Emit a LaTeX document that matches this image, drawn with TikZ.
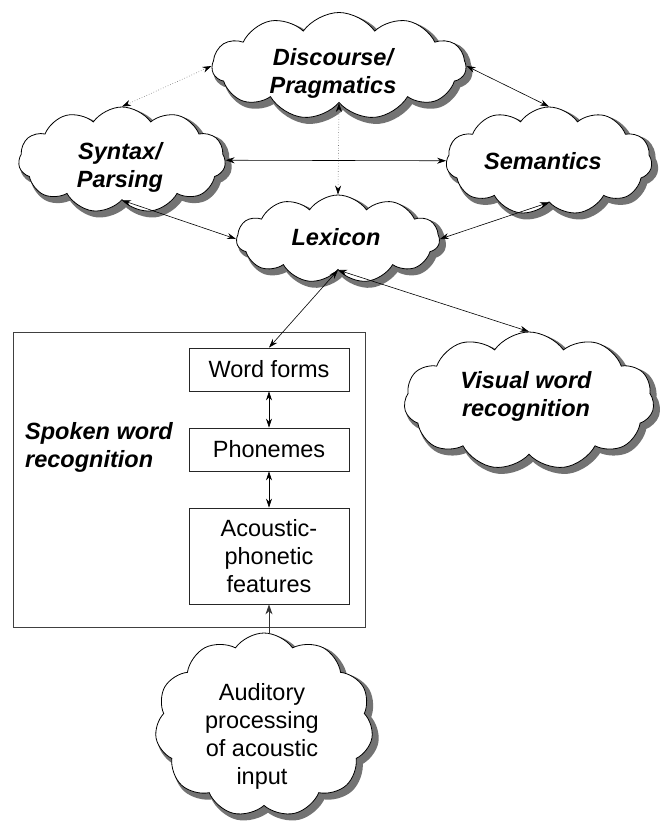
\documentclass[tikz,border=0pt]{standalone}
\usepackage{fontspec}
\setmainfont{Liberation Sans}
\usetikzlibrary{shapes.symbols,arrows.meta}
\begin{document}
\begin{tikzpicture}[x=1pt,y=1pt,
  lbl/.style={font=\fontsize{23.5}{28}\selectfont\bfseries\itshape, align=center, inner sep=0pt},
  txt/.style={font=\fontsize{23.5}{28}\selectfont, align=center},
  cloudbase/.style={cloud, cloud puffs=11, cloud puff arc=110, cloud ignores aspect, inner sep=0pt},
  cloudnode/.style={cloudbase, draw=black, line width=0.8pt, fill=white},
  cloudshadow/.style={cloudbase, draw=black!55, fill=black!55, line width=5pt},
  boxnode/.style={draw=black!85, line width=0.8pt, fill=white, minimum width=160pt, inner sep=0pt},
  tipk/.tip={Stealth[length=9pt,width=6pt,color=black]},
  link/.style={tipk-tipk, line width=0.6pt},
  dotlink/.style={link, draw=black!55, dotted},
]
\fill[white] (0,0) rectangle (659,-825);
\useasboundingbox (0,0) rectangle (659,-825);

% outer box
\node[draw=black!75, line width=0.8pt, minimum width=352pt, minimum height=295pt, inner sep=0pt] (outer) at (189,-479.5) {};

% cloud shadows
\node[cloudshadow, minimum width=254pt, minimum height=107pt] (discsh) at (343,-70) {};
\node[cloudshadow, minimum width=207pt, minimum height=106pt] (synsh) at (126,-164) {};
\node[cloudshadow, minimum width=206pt, minimum height=108pt] (semsh) at (553,-165) {};
\node[cloudshadow, minimum width=203pt, minimum height=88pt] (lexsh) at (342,-243) {};
\node[cloudshadow, minimum width=250pt, minimum height=138pt] (vissh) at (533,-405) {};
\node[cloudshadow, minimum width=218pt, minimum height=184pt] (audsh) at (268,-729) {};

% clouds
\node[cloudnode, minimum width=254pt, minimum height=107pt] (disc) at (339,-66) {};
\node[cloudnode, minimum width=207pt, minimum height=106pt] (syn) at (122,-160) {};
\node[cloudnode, minimum width=206pt, minimum height=108pt] (sem) at (549,-161) {};
\node[cloudnode, minimum width=203pt, minimum height=88pt] (lex) at (338,-239) {};
\node[cloudnode, minimum width=250pt, minimum height=138pt] (vis) at (529,-401) {};
\node[cloudnode, minimum width=218pt, minimum height=184pt] (aud) at (264,-725) {};

% cloud texts
\node[lbl] (disct) at (333,-73) {Discourse/\\Pragmatics};
\node[lbl] (synt) at (120,-167) {Syntax/\\Parsing};
\node[lbl] (semt) at (543,-161) {Semantics};
\node[lbl] (lext) at (336,-237) {Lexicon};
\node[lbl] (vist) at (526,-396) {Visual word\\recognition};
\node[txt, inner sep=0pt] (audt) at (262,-736) {Auditory\\processing\\of acoustic\\input};

% boxes
\node[boxnode, txt, minimum height=43pt] (wf) at (269,-369.5) {Word forms};
\node[boxnode, txt, minimum height=43pt] (ph) at (269,-449.5) {Phonemes};
\node[boxnode, txt, minimum height=96pt] (ac) at (269,-556) {Acoustic-\\phonetic\\features};

\node[lbl, align=left, anchor=west] (spoken) at (25,-447) {Spoken word\\recognition};

% connectors
\draw[dotlink] (disc.west) -- (syn.north);
\draw[link] (disc.east) -- (sem.north);
\draw[link] (syn) -- (sem);
\draw[dotlink] (disc.south) -- (lex.north);
\draw[link] (syn.south) -- (lex.west);
\draw[link] (sem.south) -- (lex.east);
\draw[link] (lex.south) -- (wf.north);
\draw[link] (lex.south) -- (vis.north);
\draw[link] (wf) -- (ph);
\draw[link] (ph) -- (ac);
\draw[-{Stealth[length=10pt,width=7pt]}, line width=0.8pt, draw=black!80] (ac.south |- aud.north) -- (ac.south);
\end{tikzpicture}
\end{document}
